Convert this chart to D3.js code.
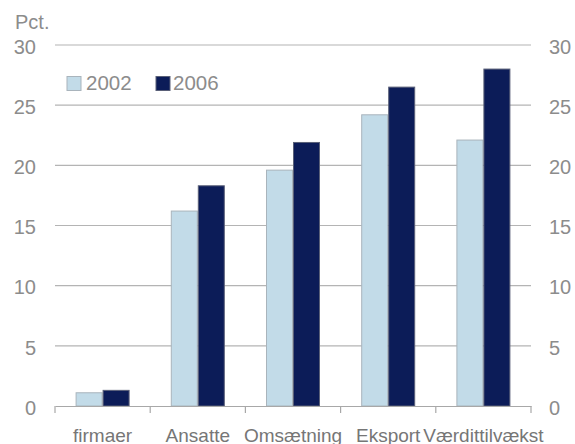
<!DOCTYPE html>
<html><head><meta charset="utf-8">
<script src="https://cdn.jsdelivr.net/npm/d3@7"></script>
<style>body{margin:0;background:#fff}svg{display:block}text{font-family:"Liberation Sans",Arial,sans-serif}</style>
</head><body>
<svg id="c" width="575" height="444"></svg>
<script>
const categories = ["firmaer","Ansatte","Omsætning","Eksport","Værdittilvækst"];
const series = ["2002","2006"];
const values2002 = [1.1, 16.2, 19.6, 24.2, 22.1];
const values2006 = [1.3, 18.3, 21.9, 26.5, 28.0];
const yTicks = [0,5,10,15,20,25,30];
const colors = ["#c2dbe8","#0c1c58"];

const svg = d3.select("#c");
const mLeft = 55, mRight = 531, mTop = 45, mBottom = 406;
const x = d3.scaleBand().domain(categories).range([mLeft,mRight]).paddingInner(0).paddingOuter(0);
const y = d3.scaleLinear().domain([0,30]).range([mBottom,mTop]);
const barW = 27;
const xs = d3.scaleBand().domain(series).range([0,barW*2]);

// gridlines
svg.append("g").selectAll("line").data(yTicks.filter(d=>d>0)).join("line")
  .attr("x1",mLeft).attr("x2",mRight).attr("y1",d=>y(d)).attr("y2",d=>y(d))
  .attr("stroke","#b4b4b4").attr("stroke-width",1.2);

// left axis labels
svg.append("g").selectAll("text").data(yTicks).join("text")
  .attr("x",36).attr("y",d=>y(d)+1.5).attr("dy","0.36em").attr("text-anchor","end")
  .attr("font-size",20).attr("fill","#8c8c8c").text(d=>d);
// right axis labels
svg.append("g").selectAll("text").data(yTicks).join("text")
  .attr("x",549).attr("y",d=>y(d)+1.5).attr("dy","0.36em").attr("text-anchor","start")
  .attr("font-size",20).attr("fill","#8c8c8c").text(d=>d);
svg.append("text").attr("x",15).attr("y",29).attr("font-size",20).attr("fill","#8c8c8c").text("Pct.");

// bars
const data = categories.map((c,i)=>({c, vals:[values2002[i], values2006[i]]}));
const groups = svg.append("g").selectAll("g").data(data).join("g")
  .attr("transform",d=>`translate(${x(d.c)+x.bandwidth()/2-barW},0)`);
groups.selectAll("rect").data(d=>d.vals.map((v,j)=>({s:series[j],v,j}))).join("rect")
  .attr("x",d=>xs(d.s)+0.5).attr("width",barW-1)
  .attr("y",d=>y(d.v)).attr("height",d=>y(0)-y(d.v))
  .attr("fill",d=>colors[d.j]).attr("stroke",d=>d.j===0?"#a9b4bc":"#5a6078").attr("stroke-width",1);

// x axis
const xa = svg.append("g").attr("transform",`translate(0,${mBottom})`)
  .call(d3.axisBottom(x).tickSize(0).tickFormat(""));
xa.select(".domain").attr("stroke","#a8a8a8").attr("stroke-width",1.2);
svg.append("g").selectAll("line").data(d3.range(categories.length+1)).join("line")
  .attr("x1",i=>mLeft+i*x.bandwidth()).attr("x2",i=>mLeft+i*x.bandwidth())
  .attr("y1",mBottom).attr("y2",mBottom+7).attr("stroke","#a8a8a8").attr("stroke-width",1.2);
svg.append("g").selectAll("text").data(categories).join("text")
  .attr("x",d=>x(d)+x.bandwidth()/2).attr("y",441.5).attr("text-anchor","middle")
  .attr("font-size",19).attr("fill","#767676").text(d=>d);

// legend
const leg = svg.append("g");
const lx = [67,156], tx = [86,173];
series.forEach((s,i)=>{
  leg.append("rect").attr("x",lx[i]).attr("y",76.5).attr("width",14).attr("height",14)
    .attr("fill",colors[i]).attr("stroke",i===0?"#a9b4bc":"#5a6078");
  leg.append("text").attr("x",tx[i]).attr("y",89.5).attr("font-size",20.5).attr("fill","#8c8c8c").text(s);
});
</script>
</body></html>
